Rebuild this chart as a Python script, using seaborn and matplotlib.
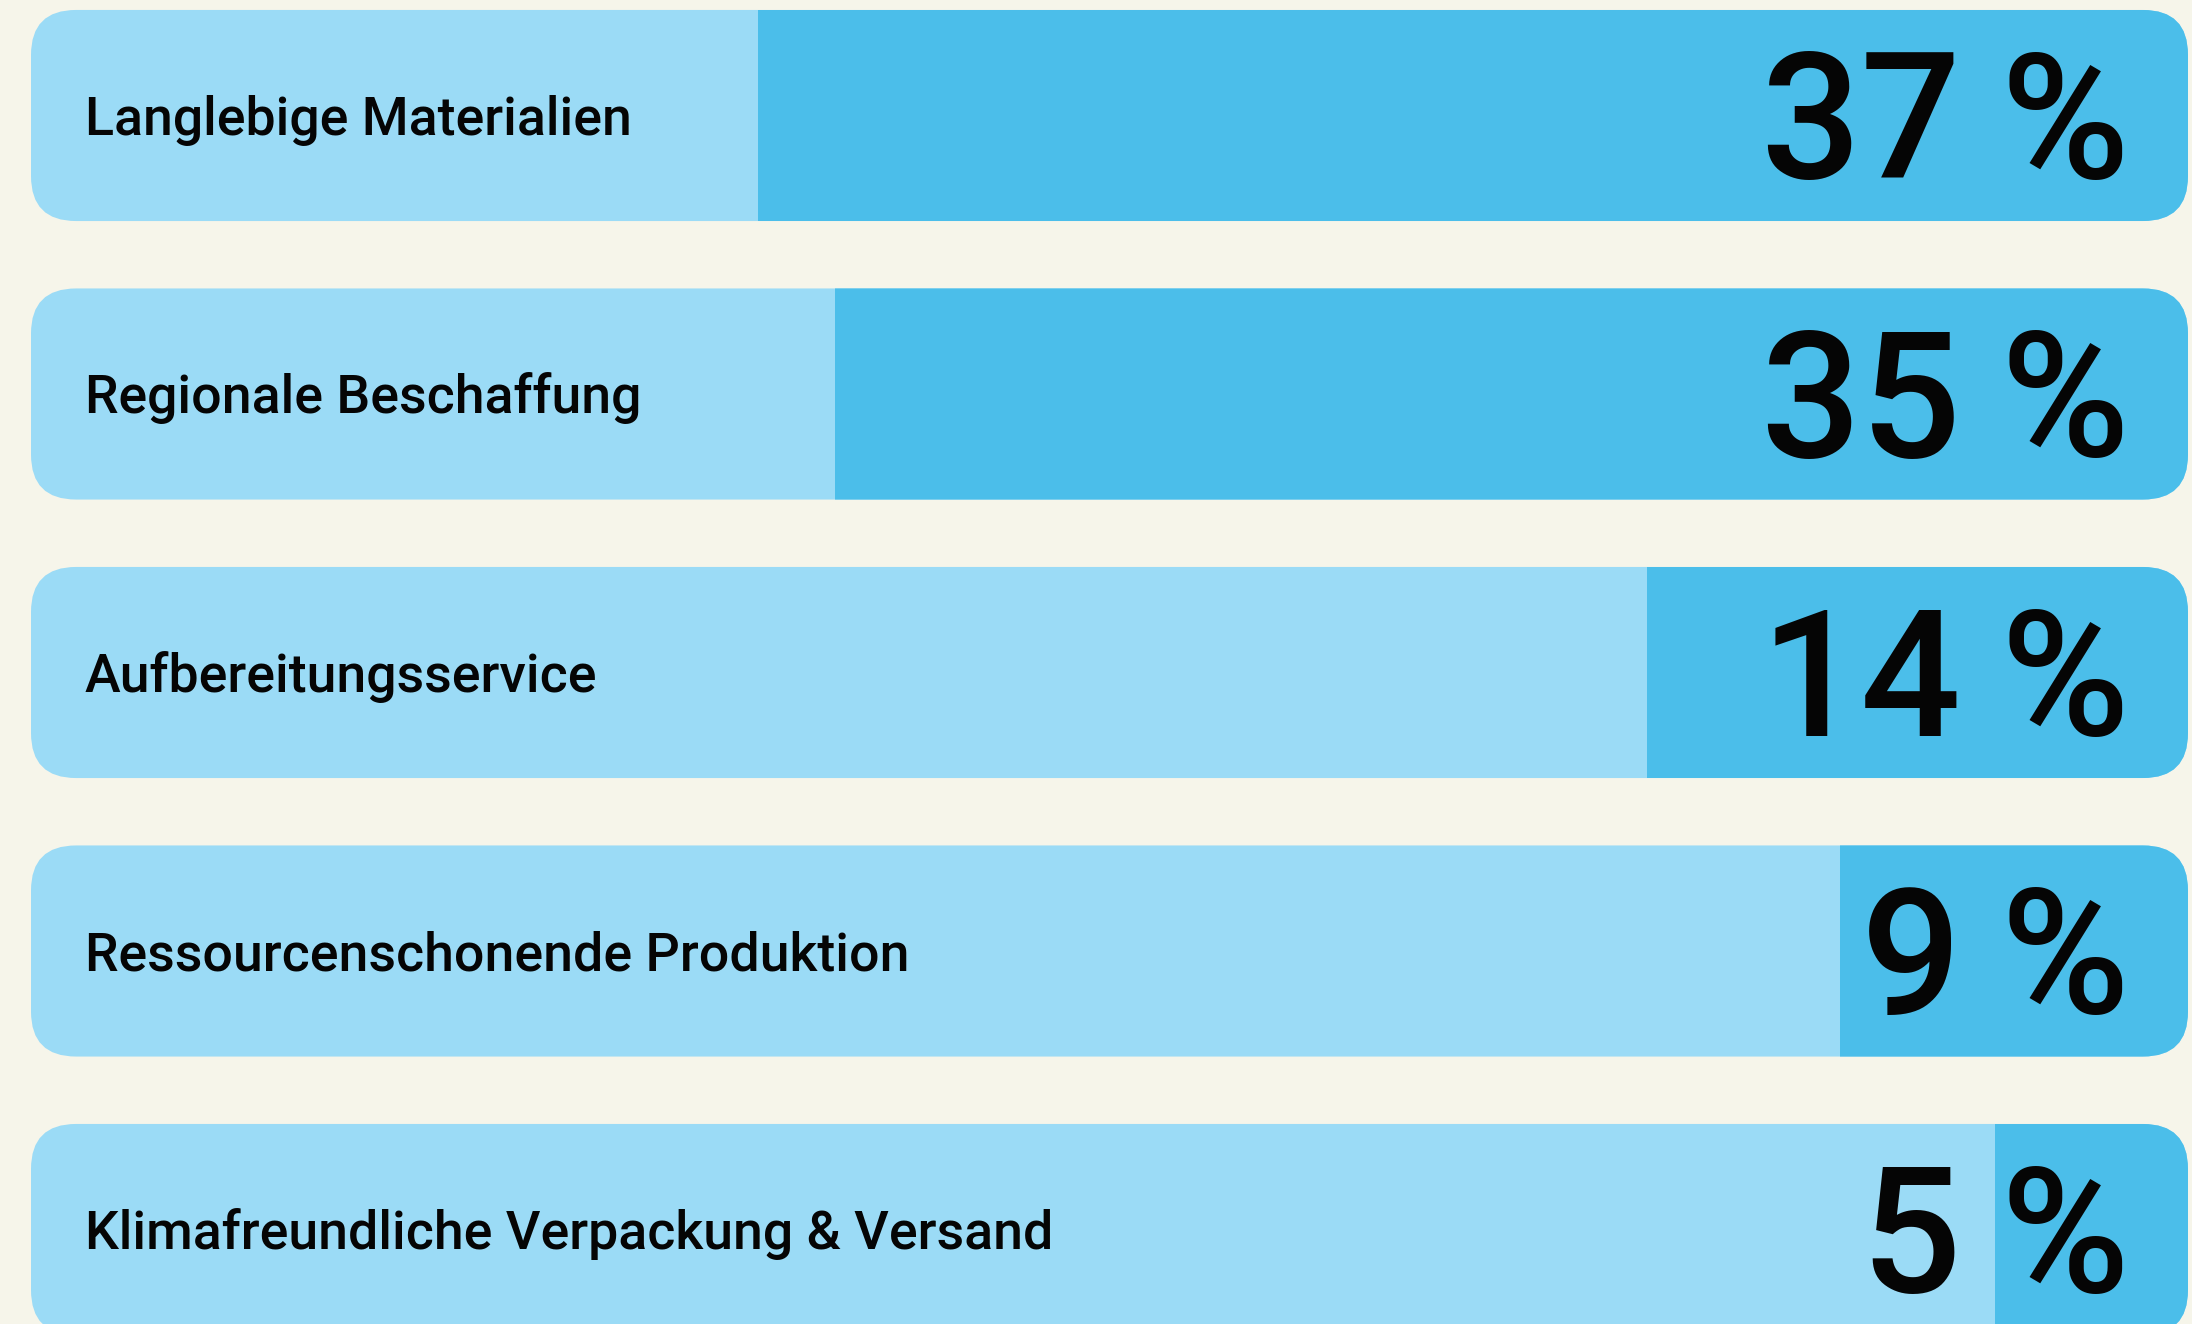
import matplotlib
matplotlib.use("Agg")
import matplotlib.pyplot as plt
import seaborn as sns
import pandas as pd
from matplotlib.patches import FancyBboxPatch
from matplotlib.textpath import TextPath
from matplotlib.font_manager import FontProperties

# Survey results: share of respondents per sustainability aspect
categories = [
    "Langlebige Materialien",
    "Regionale Beschaffung",
    "Aufbereitungsservice",
    "Ressourcenschonende Produktion",
    "Klimafreundliche Verpackung & Versand",
]
shares = [37, 35, 14, 9, 5]
track_max = 55.8  # full length of each bar track, in percent units
value_labels = [str(v) for v in shares]

BG = "#F6F5EA"
LIGHT = "#9BDBF6"
DARK = "#4BBEEA"
INK = "#050505"

sns.set_theme(style="white")
plt.rcParams["font.family"] = ["Roboto", "DejaVu Sans"]

W, H, DPI = 2192, 1324, 100
fig = plt.figure(figsize=(W / DPI, H / DPI), dpi=DPI, facecolor=BG)
ax = fig.add_axes([0, 0, 1, 1])
ax.set_facecolor(BG)

df = pd.DataFrame({
    "kategorie": categories,
    "anteil": shares,
    "gesamt": [track_max] * len(categories),
})

bar_h = 0.758
sns.barplot(data=df, y="kategorie", x="gesamt", color=LIGHT, width=bar_h,
            saturation=1, orient="h", ax=ax)
n_track = len(ax.patches)
sns.barplot(data=df, y="kategorie", x="anteil", color=DARK, width=bar_h,
            saturation=1, orient="h", ax=ax)
track_patches = ax.patches[:n_track]
share_patches = ax.patches[n_track:]

# pixel-based layout: track spans x-pixels 31..2188, rows 278.5 px apart
ux = track_max / 2157.0
uy = 1.0 / 278.5
ax.set_xlim(track_max + 31 * ux, -4 * ux)  # bars grow from the right edge
ax.set_ylim((H - 115.5) * uy, -115.5 * uy)
ax.set_axis_off()

# rounded tracks; the share segments are clipped to them
rx, ry = 45 * ux, 45 * uy
for tp, sp in zip(track_patches, share_patches):
    x0 = min(tp.get_x(), tp.get_x() + tp.get_width())
    w = abs(tp.get_width())
    y0, h = tp.get_y(), tp.get_height()
    rounded = FancyBboxPatch((x0 + rx, y0 + ry), w - 2 * rx, h - 2 * ry,
                             boxstyle=f"round,pad={rx}", mutation_aspect=ry / rx,
                             facecolor=LIGHT, edgecolor="none", linewidth=0,
                             zorder=1)
    ax.add_patch(rounded)
    tp.set_visible(False)
    sp.set_zorder(2)
    sp.set_edgecolor("none")
    sp.set_linewidth(0)
    sp.set_clip_path(rounded)

px2pt = 72.0 / DPI

# category names inside the left end of each track
for i, cat in enumerate(categories):
    ax.annotate(cat, xy=(track_max, i), xytext=(54 * px2pt, -19.5 * px2pt),
                textcoords="offset points", ha="left", va="baseline",
                fontsize=38.6, fontweight="medium", color=INK, zorder=3)

# big value labels: digits and percent sign share the same ink height
fp_num = FontProperties(family=["Roboto", "DejaVu Sans"], weight="medium")


def ink_box(s, size):
    return TextPath((0, 0), s, size=size, prop=fp_num).get_extents()


digit_h_pt = 126 * px2pt
num_size = 100 * digit_h_pt / ink_box("14", 100).height
pct_size = 100 * 128 * px2pt / ink_box("%", 100).height
pct_box = ink_box("%", pct_size)
pct_center_px = 115   # distance of the percent sign's centre from the track end
num_right_px = 227    # distance of the number's right edge from the track end

for i, lab in enumerate(value_labels):
    pb = pct_box
    ax.annotate("%", xy=(0, i),
                xytext=(-pct_center_px * px2pt + pb.width / 2, -(pb.y0 + pb.y1) / 2),
                textcoords="offset points", ha="right", va="baseline",
                fontsize=pct_size, fontweight="medium", color=INK, zorder=3)
    ax.annotate(lab, xy=(0, i), xytext=(-num_right_px * px2pt, -digit_h_pt / 2),
                textcoords="offset points", ha="right", va="baseline",
                fontsize=num_size, fontweight="medium", color=INK, zorder=3)

fig.savefig("out.png", dpi=DPI, facecolor=BG)
